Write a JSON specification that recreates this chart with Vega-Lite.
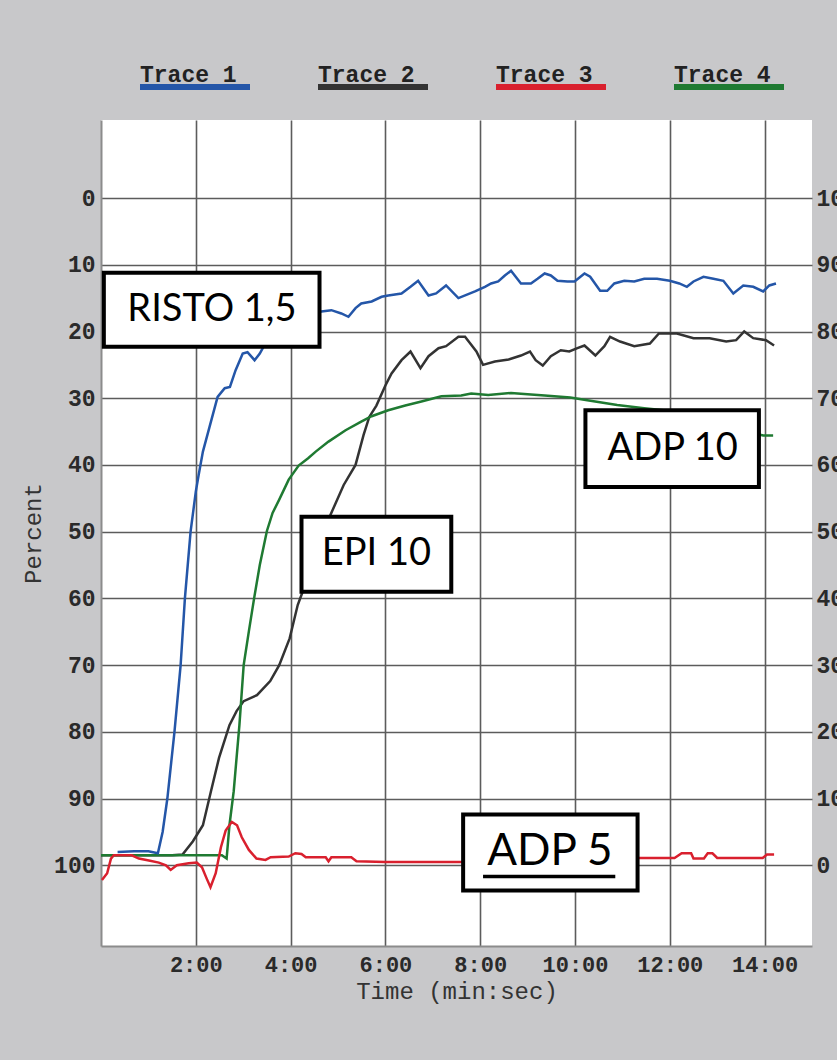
{
  "$schema": "https://vega.github.io/schema/vega-lite/v6.json",
  "width": 711,
  "height": 826,
  "autosize": {"type": "none"},
  "padding": {"left": 101, "top": 120, "right": 25, "bottom": 114},
  "background": "#c8c8ca",
  "config": {
    "view": {"fill": "#ffffff", "stroke": null},
    "font": "Liberation Mono",
    "axis": {
      "labelFont": "Liberation Mono",
      "labelFontWeight": "bold",
      "labelColor": "#2a2a2a",
      "titleFont": "Liberation Mono",
      "titleFontWeight": "normal",
      "titleColor": "#333333",
      "gridColor": "#5c5c5c",
      "gridWidth": 1.6,
      "gridOpacity": 1,
      "domainColor": "#8c8c8c",
      "domainWidth": 2,
      "ticks": false
    }
  },
  "datasets": {
    "traces": [
      {"trace": "Trace 2", "t": 0.0, "p": 98.5},
      {"trace": "Trace 2", "t": 0.5, "p": 98.5},
      {"trace": "Trace 2", "t": 1.0, "p": 98.5},
      {"trace": "Trace 2", "t": 1.5, "p": 98.5},
      {"trace": "Trace 2", "t": 1.72, "p": 98.4},
      {"trace": "Trace 2", "t": 1.94, "p": 96.4},
      {"trace": "Trace 2", "t": 2.15, "p": 94.0},
      {"trace": "Trace 2", "t": 2.32, "p": 88.9},
      {"trace": "Trace 2", "t": 2.49, "p": 83.9},
      {"trace": "Trace 2", "t": 2.71, "p": 79.0},
      {"trace": "Trace 2", "t": 2.86, "p": 76.9},
      {"trace": "Trace 2", "t": 3.01, "p": 75.4},
      {"trace": "Trace 2", "t": 3.29, "p": 74.5},
      {"trace": "Trace 2", "t": 3.57, "p": 72.4},
      {"trace": "Trace 2", "t": 3.76, "p": 70.0},
      {"trace": "Trace 2", "t": 3.98, "p": 66.0},
      {"trace": "Trace 2", "t": 4.15, "p": 61.0},
      {"trace": "Trace 2", "t": 4.26, "p": 58.9},
      {"trace": "Trace 2", "t": 4.55, "p": 53.0},
      {"trace": "Trace 2", "t": 4.84, "p": 47.5},
      {"trace": "Trace 2", "t": 5.12, "p": 43.0},
      {"trace": "Trace 2", "t": 5.37, "p": 40.0},
      {"trace": "Trace 2", "t": 5.54, "p": 35.5},
      {"trace": "Trace 2", "t": 5.66, "p": 32.8},
      {"trace": "Trace 2", "t": 5.81, "p": 31.1},
      {"trace": "Trace 2", "t": 6.0, "p": 28.1},
      {"trace": "Trace 2", "t": 6.13, "p": 26.3},
      {"trace": "Trace 2", "t": 6.34, "p": 24.3},
      {"trace": "Trace 2", "t": 6.53, "p": 23.0},
      {"trace": "Trace 2", "t": 6.74, "p": 25.5},
      {"trace": "Trace 2", "t": 6.91, "p": 23.7},
      {"trace": "Trace 2", "t": 7.12, "p": 22.5},
      {"trace": "Trace 2", "t": 7.28, "p": 22.2},
      {"trace": "Trace 2", "t": 7.54, "p": 20.8},
      {"trace": "Trace 2", "t": 7.68, "p": 20.8},
      {"trace": "Trace 2", "t": 7.92, "p": 23.0},
      {"trace": "Trace 2", "t": 8.06, "p": 25.0},
      {"trace": "Trace 2", "t": 8.31, "p": 24.5},
      {"trace": "Trace 2", "t": 8.6, "p": 24.2},
      {"trace": "Trace 2", "t": 8.86, "p": 23.6},
      {"trace": "Trace 2", "t": 9.05, "p": 23.0},
      {"trace": "Trace 2", "t": 9.17, "p": 24.3},
      {"trace": "Trace 2", "t": 9.32, "p": 25.1},
      {"trace": "Trace 2", "t": 9.49, "p": 23.7},
      {"trace": "Trace 2", "t": 9.7, "p": 22.8},
      {"trace": "Trace 2", "t": 9.88, "p": 23.0},
      {"trace": "Trace 2", "t": 10.05, "p": 22.5},
      {"trace": "Trace 2", "t": 10.2, "p": 22.1},
      {"trace": "Trace 2", "t": 10.43, "p": 23.6},
      {"trace": "Trace 2", "t": 10.62, "p": 22.2},
      {"trace": "Trace 2", "t": 10.74, "p": 20.8},
      {"trace": "Trace 2", "t": 10.95, "p": 21.5},
      {"trace": "Trace 2", "t": 11.25, "p": 22.2},
      {"trace": "Trace 2", "t": 11.58, "p": 21.8},
      {"trace": "Trace 2", "t": 11.77, "p": 20.3},
      {"trace": "Trace 2", "t": 12.15, "p": 20.3},
      {"trace": "Trace 2", "t": 12.5, "p": 21.0},
      {"trace": "Trace 2", "t": 12.84, "p": 21.0},
      {"trace": "Trace 2", "t": 13.19, "p": 21.5},
      {"trace": "Trace 2", "t": 13.4, "p": 21.3},
      {"trace": "Trace 2", "t": 13.57, "p": 20.0},
      {"trace": "Trace 2", "t": 13.76, "p": 21.0},
      {"trace": "Trace 2", "t": 14.03, "p": 21.3},
      {"trace": "Trace 2", "t": 14.2, "p": 22.1},

      {"trace": "Trace 4", "t": 0.0, "p": 98.5},
      {"trace": "Trace 4", "t": 1.0, "p": 98.5},
      {"trace": "Trace 4", "t": 2.0, "p": 98.5},
      {"trace": "Trace 4", "t": 2.55, "p": 98.5},
      {"trace": "Trace 4", "t": 2.65, "p": 99.0},
      {"trace": "Trace 4", "t": 2.71, "p": 94.0},
      {"trace": "Trace 4", "t": 2.8, "p": 88.9},
      {"trace": "Trace 4", "t": 2.86, "p": 83.9},
      {"trace": "Trace 4", "t": 2.92, "p": 79.0},
      {"trace": "Trace 4", "t": 3.01, "p": 70.0},
      {"trace": "Trace 4", "t": 3.12, "p": 64.9},
      {"trace": "Trace 4", "t": 3.23, "p": 60.0},
      {"trace": "Trace 4", "t": 3.35, "p": 55.0},
      {"trace": "Trace 4", "t": 3.5, "p": 49.9},
      {"trace": "Trace 4", "t": 3.62, "p": 47.2},
      {"trace": "Trace 4", "t": 3.76, "p": 45.2},
      {"trace": "Trace 4", "t": 3.96, "p": 42.2},
      {"trace": "Trace 4", "t": 4.17, "p": 40.1},
      {"trace": "Trace 4", "t": 4.37, "p": 39.0},
      {"trace": "Trace 4", "t": 4.53, "p": 38.0},
      {"trace": "Trace 4", "t": 4.8, "p": 36.5},
      {"trace": "Trace 4", "t": 5.16, "p": 34.8},
      {"trace": "Trace 4", "t": 5.49, "p": 33.5},
      {"trace": "Trace 4", "t": 5.71, "p": 32.7},
      {"trace": "Trace 4", "t": 6.06, "p": 31.8},
      {"trace": "Trace 4", "t": 6.42, "p": 31.1},
      {"trace": "Trace 4", "t": 6.76, "p": 30.5},
      {"trace": "Trace 4", "t": 7.18, "p": 29.7},
      {"trace": "Trace 4", "t": 7.6, "p": 29.6},
      {"trace": "Trace 4", "t": 7.81, "p": 29.3},
      {"trace": "Trace 4", "t": 8.17, "p": 29.5},
      {"trace": "Trace 4", "t": 8.65, "p": 29.2},
      {"trace": "Trace 4", "t": 9.0, "p": 29.4},
      {"trace": "Trace 4", "t": 9.36, "p": 29.6},
      {"trace": "Trace 4", "t": 9.9, "p": 29.9},
      {"trace": "Trace 4", "t": 10.26, "p": 30.3},
      {"trace": "Trace 4", "t": 10.89, "p": 31.0},
      {"trace": "Trace 4", "t": 11.46, "p": 31.5},
      {"trace": "Trace 4", "t": 11.87, "p": 31.8},
      {"trace": "Trace 4", "t": 12.5, "p": 32.8},
      {"trace": "Trace 4", "t": 13.0, "p": 33.8},
      {"trace": "Trace 4", "t": 13.5, "p": 34.8},
      {"trace": "Trace 4", "t": 13.97, "p": 35.6},
      {"trace": "Trace 4", "t": 14.18, "p": 35.6},

      {"trace": "Trace 1", "t": 0.35, "p": 98.0},
      {"trace": "Trace 1", "t": 0.7, "p": 97.9},
      {"trace": "Trace 1", "t": 1.0, "p": 97.9},
      {"trace": "Trace 1", "t": 1.2, "p": 98.2},
      {"trace": "Trace 1", "t": 1.3, "p": 95.0},
      {"trace": "Trace 1", "t": 1.4, "p": 90.0},
      {"trace": "Trace 1", "t": 1.55, "p": 80.0},
      {"trace": "Trace 1", "t": 1.68, "p": 70.0},
      {"trace": "Trace 1", "t": 1.77, "p": 60.0},
      {"trace": "Trace 1", "t": 1.89, "p": 50.0},
      {"trace": "Trace 1", "t": 2.0, "p": 44.0},
      {"trace": "Trace 1", "t": 2.06, "p": 41.5},
      {"trace": "Trace 1", "t": 2.15, "p": 38.0},
      {"trace": "Trace 1", "t": 2.29, "p": 34.3},
      {"trace": "Trace 1", "t": 2.46, "p": 29.8},
      {"trace": "Trace 1", "t": 2.61, "p": 28.5},
      {"trace": "Trace 1", "t": 2.72, "p": 28.3},
      {"trace": "Trace 1", "t": 2.84, "p": 25.8},
      {"trace": "Trace 1", "t": 2.99, "p": 23.3},
      {"trace": "Trace 1", "t": 3.09, "p": 23.1},
      {"trace": "Trace 1", "t": 3.24, "p": 24.3},
      {"trace": "Trace 1", "t": 3.35, "p": 23.3},
      {"trace": "Trace 1", "t": 3.45, "p": 22.0},
      {"trace": "Trace 1", "t": 3.7, "p": 20.8},
      {"trace": "Trace 1", "t": 4.0, "p": 19.3},
      {"trace": "Trace 1", "t": 4.3, "p": 18.2},
      {"trace": "Trace 1", "t": 4.65, "p": 17.0},
      {"trace": "Trace 1", "t": 4.86, "p": 16.8},
      {"trace": "Trace 1", "t": 5.07, "p": 17.3},
      {"trace": "Trace 1", "t": 5.22, "p": 17.8},
      {"trace": "Trace 1", "t": 5.37, "p": 16.5},
      {"trace": "Trace 1", "t": 5.49, "p": 15.8},
      {"trace": "Trace 1", "t": 5.71, "p": 15.5},
      {"trace": "Trace 1", "t": 5.92, "p": 14.8},
      {"trace": "Trace 1", "t": 6.06, "p": 14.6},
      {"trace": "Trace 1", "t": 6.34, "p": 14.3},
      {"trace": "Trace 1", "t": 6.53, "p": 13.3},
      {"trace": "Trace 1", "t": 6.69, "p": 12.4},
      {"trace": "Trace 1", "t": 6.91, "p": 14.6},
      {"trace": "Trace 1", "t": 7.07, "p": 14.3},
      {"trace": "Trace 1", "t": 7.28, "p": 13.1},
      {"trace": "Trace 1", "t": 7.54, "p": 15.0},
      {"trace": "Trace 1", "t": 7.89, "p": 14.0},
      {"trace": "Trace 1", "t": 8.1, "p": 13.3},
      {"trace": "Trace 1", "t": 8.23, "p": 12.8},
      {"trace": "Trace 1", "t": 8.38, "p": 12.5},
      {"trace": "Trace 1", "t": 8.52, "p": 11.6},
      {"trace": "Trace 1", "t": 8.65, "p": 10.9},
      {"trace": "Trace 1", "t": 8.86, "p": 12.8},
      {"trace": "Trace 1", "t": 9.07, "p": 12.8},
      {"trace": "Trace 1", "t": 9.21, "p": 12.1},
      {"trace": "Trace 1", "t": 9.36, "p": 11.3},
      {"trace": "Trace 1", "t": 9.49, "p": 11.6},
      {"trace": "Trace 1", "t": 9.63, "p": 12.4},
      {"trace": "Trace 1", "t": 9.84, "p": 12.5},
      {"trace": "Trace 1", "t": 9.99, "p": 12.5},
      {"trace": "Trace 1", "t": 10.2, "p": 11.3},
      {"trace": "Trace 1", "t": 10.32, "p": 11.8},
      {"trace": "Trace 1", "t": 10.53, "p": 13.9},
      {"trace": "Trace 1", "t": 10.68, "p": 13.9},
      {"trace": "Trace 1", "t": 10.83, "p": 12.8},
      {"trace": "Trace 1", "t": 11.04, "p": 12.4},
      {"trace": "Trace 1", "t": 11.25, "p": 12.5},
      {"trace": "Trace 1", "t": 11.46, "p": 12.1},
      {"trace": "Trace 1", "t": 11.73, "p": 12.1},
      {"trace": "Trace 1", "t": 12.0, "p": 12.4},
      {"trace": "Trace 1", "t": 12.2, "p": 12.8},
      {"trace": "Trace 1", "t": 12.36, "p": 13.3},
      {"trace": "Trace 1", "t": 12.5, "p": 12.5},
      {"trace": "Trace 1", "t": 12.71, "p": 11.8},
      {"trace": "Trace 1", "t": 12.92, "p": 12.1},
      {"trace": "Trace 1", "t": 13.13, "p": 12.4},
      {"trace": "Trace 1", "t": 13.34, "p": 14.3},
      {"trace": "Trace 1", "t": 13.55, "p": 13.1},
      {"trace": "Trace 1", "t": 13.76, "p": 13.3},
      {"trace": "Trace 1", "t": 13.97, "p": 14.0},
      {"trace": "Trace 1", "t": 14.1, "p": 13.1},
      {"trace": "Trace 1", "t": 14.24, "p": 12.8},

      {"trace": "Trace 3", "t": 0.02, "p": 102.2},
      {"trace": "Trace 3", "t": 0.13, "p": 101.2},
      {"trace": "Trace 3", "t": 0.21, "p": 99.0},
      {"trace": "Trace 3", "t": 0.27, "p": 98.5},
      {"trace": "Trace 3", "t": 0.65, "p": 98.5},
      {"trace": "Trace 3", "t": 0.8, "p": 99.0},
      {"trace": "Trace 3", "t": 1.01, "p": 99.3},
      {"trace": "Trace 3", "t": 1.22, "p": 99.6},
      {"trace": "Trace 3", "t": 1.37, "p": 100.0},
      {"trace": "Trace 3", "t": 1.47, "p": 100.7},
      {"trace": "Trace 3", "t": 1.6, "p": 100.0},
      {"trace": "Trace 3", "t": 1.85, "p": 99.7},
      {"trace": "Trace 3", "t": 2.02, "p": 99.6},
      {"trace": "Trace 3", "t": 2.13, "p": 100.3},
      {"trace": "Trace 3", "t": 2.23, "p": 102.0},
      {"trace": "Trace 3", "t": 2.31, "p": 103.3},
      {"trace": "Trace 3", "t": 2.42, "p": 101.2},
      {"trace": "Trace 3", "t": 2.53, "p": 97.3},
      {"trace": "Trace 3", "t": 2.63, "p": 94.8},
      {"trace": "Trace 3", "t": 2.76, "p": 93.5},
      {"trace": "Trace 3", "t": 2.87, "p": 94.0},
      {"trace": "Trace 3", "t": 2.97, "p": 95.8},
      {"trace": "Trace 3", "t": 3.12, "p": 97.7},
      {"trace": "Trace 3", "t": 3.28, "p": 99.0},
      {"trace": "Trace 3", "t": 3.47, "p": 99.2},
      {"trace": "Trace 3", "t": 3.58, "p": 98.8},
      {"trace": "Trace 3", "t": 3.96, "p": 98.7},
      {"trace": "Trace 3", "t": 4.1, "p": 98.2},
      {"trace": "Trace 3", "t": 4.23, "p": 98.3},
      {"trace": "Trace 3", "t": 4.32, "p": 98.8},
      {"trace": "Trace 3", "t": 4.74, "p": 98.8},
      {"trace": "Trace 3", "t": 4.8, "p": 99.4},
      {"trace": "Trace 3", "t": 4.86, "p": 98.8},
      {"trace": "Trace 3", "t": 5.28, "p": 98.8},
      {"trace": "Trace 3", "t": 5.39, "p": 99.4},
      {"trace": "Trace 3", "t": 6.0, "p": 99.5},
      {"trace": "Trace 3", "t": 7.6, "p": 99.5},
      {"trace": "Trace 3", "t": 9.5, "p": 99.2},
      {"trace": "Trace 3", "t": 11.28, "p": 98.9},
      {"trace": "Trace 3", "t": 12.1, "p": 98.9},
      {"trace": "Trace 3", "t": 12.25, "p": 98.2},
      {"trace": "Trace 3", "t": 12.45, "p": 98.2},
      {"trace": "Trace 3", "t": 12.5, "p": 99.0},
      {"trace": "Trace 3", "t": 12.72, "p": 99.0},
      {"trace": "Trace 3", "t": 12.8, "p": 98.2},
      {"trace": "Trace 3", "t": 12.9, "p": 98.2},
      {"trace": "Trace 3", "t": 13.0, "p": 98.9},
      {"trace": "Trace 3", "t": 13.96, "p": 98.9},
      {"trace": "Trace 3", "t": 14.05, "p": 98.4},
      {"trace": "Trace 3", "t": 14.2, "p": 98.4}
    ],
    "boxes": [
      {"label": "RISTO 1,5", "x1": 0.06, "x2": 4.61, "y1": 11.2, "y2": 22.3, "tx": 2.34, "ty": 16.8},
      {"label": "EPI 10", "x1": 4.23, "x2": 7.39, "y1": 47.75, "y2": 59.0, "tx": 5.81, "ty": 53.4},
      {"label": "ADP 10", "x1": 10.22, "x2": 13.88, "y1": 31.8, "y2": 43.3, "tx": 12.06, "ty": 37.6},
      {"label": "ADP 5", "x1": 7.64, "x2": 11.32, "y1": 92.4, "y2": 103.8, "tx": 9.47, "ty": 98.0}
    ],
    "underline": [
      {"x1": 8.06, "x2": 10.85, "y": 101.7}
    ]
  },
  "resolve": {"axis": {"x": "independent", "y": "independent"}},
  "layer": [
    {
      "data": {"name": "traces"},
      "mark": {"type": "line", "strokeWidth": 2.5},
      "encoding": {
        "x": {
          "field": "t",
          "type": "quantitative",
          "scale": {"domain": [0, 15], "nice": false, "zero": false},
          "axis": {
            "values": [2, 4, 6, 8, 10, 12, 14],
            "labelExpr": "datum.value + ':00'",
            "title": "Time (min:sec)",
            "grid": true,
            "labelFontSize": 22,
            "labelPadding": 8,
            "titleFontSize": 24,
            "titlePadding": 4
          }
        },
        "y": {
          "field": "p",
          "type": "quantitative",
          "scale": {"domain": [-11.7, 112.1], "reverse": true, "nice": false, "zero": false},
          "axis": {
            "values": [0, 10, 20, 30, 40, 50, 60, 70, 80, 90, 100],
            "title": "Percent",
            "grid": true,
            "labelFontSize": 23,
            "labelPadding": 6,
            "titleFontSize": 24,
            "titlePadding": 8
          }
        },
        "color": {
          "field": "trace",
          "type": "nominal",
          "scale": {
            "domain": ["Trace 1", "Trace 2", "Trace 3", "Trace 4"],
            "range": ["#2456a8", "#333333", "#d9202e", "#1f7a32"]
          },
          "legend": {
            "orient": "none",
            "legendX": 36,
            "legendY": -91,
            "direction": "horizontal",
            "title": null,
            "symbolType": "stroke",
            "symbolSize": 12100,
            "symbolStrokeWidth": 6,
            "labelOffset": -113,
            "labelBaseline": "bottom",
            "labelFont": "Liberation Mono",
            "labelFontWeight": "bold",
            "labelFontSize": 23,
            "labelColor": "#222222",
            "columnPadding": 44
          }
        }
      }
    },
    {
      "data": {"name": "boxes"},
      "mark": {"type": "rect", "fill": "#ffffff", "stroke": "#000000", "strokeWidth": 4},
      "encoding": {
        "x": {"field": "x1", "type": "quantitative", "axis": null},
        "x2": {"field": "x2"},
        "y": {
          "field": "y1",
          "type": "quantitative",
          "axis": {
            "orient": "right",
            "values": [0, 10, 20, 30, 40, 50, 60, 70, 80, 90, 100],
            "labelExpr": "100 - datum.value",
            "title": null,
            "grid": false,
            "domain": false,
            "labelFontSize": 23,
            "labelPadding": 4
          }
        },
        "y2": {"field": "y2"}
      }
    },
    {
      "data": {"name": "boxes"},
      "transform": [{"filter": "datum.label != 'ADP 5'"}],
      "mark": {"type": "text", "font": "Lato", "fontSize": 38, "color": "#000000", "align": "center", "baseline": "middle"},
      "encoding": {
        "x": {"field": "tx", "type": "quantitative", "axis": null},
        "y": {"field": "ty", "type": "quantitative", "axis": null},
        "text": {"field": "label"}
      }
    },
    {
      "data": {"name": "boxes"},
      "transform": [{"filter": "datum.label == 'ADP 5'"}],
      "mark": {"type": "text", "font": "Lato", "fontSize": 44, "color": "#000000", "align": "center", "baseline": "middle"},
      "encoding": {
        "x": {"field": "tx", "type": "quantitative", "axis": null},
        "y": {"field": "ty", "type": "quantitative", "axis": null},
        "text": {"field": "label"}
      }
    },
    {
      "data": {"name": "underline"},
      "mark": {"type": "rule", "color": "#000000", "strokeWidth": 3.5},
      "encoding": {
        "x": {"field": "x1", "type": "quantitative", "axis": null},
        "x2": {"field": "x2"},
        "y": {"field": "y", "type": "quantitative", "axis": null}
      }
    }
  ]
}
